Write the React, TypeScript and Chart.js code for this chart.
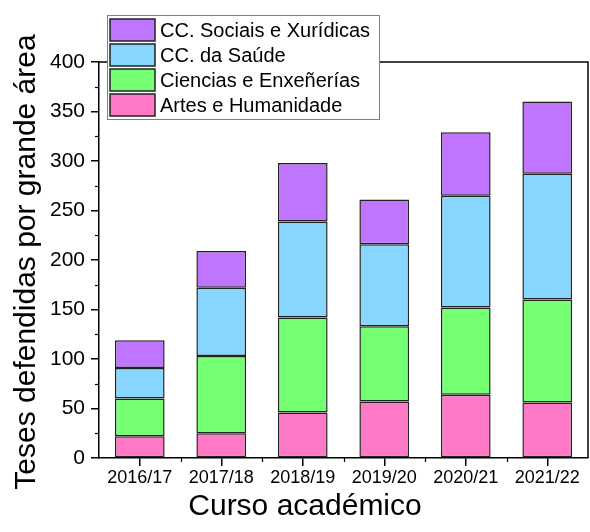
import React, { useEffect, useRef } from "react";
import { Chart, registerables } from "chart.js";

Chart.register(...registerables);

const categories = ["2016/17", "2017/18", "2018/19", "2019/20", "2020/21", "2021/22"];
const artes = [22, 25, 46, 57, 64, 56];
const ciencias = [38, 78, 96, 76, 88, 104];
const saude = [31, 69, 97, 83, 113, 127];
const sociais = [28, 37, 59, 45, 64, 73];
const yTicks = [0, 50, 100, 150, 200, 250, 300, 350, 400];

const FONT = "'Liberation Sans', Arial, sans-serif";

const framePlugin = {
  id: "frame",
  afterDraw(chart: any) {
    const { ctx, chartArea } = chart;
    const x = chart.scales.x;
    const y = chart.scales.y;
    ctx.save();
    ctx.strokeStyle = "#000";
    ctx.lineWidth = 1.5;
    ctx.beginPath();
    ctx.moveTo(chartArea.left, chartArea.top);
    ctx.lineTo(chartArea.right, chartArea.top);
    ctx.lineTo(chartArea.right, chartArea.bottom);
    ctx.stroke();
    ctx.lineWidth = 1.2;
    for (let i = 0; i < yTicks.length - 1; i++) {
      const v = (yTicks[i] + yTicks[i + 1]) / 2;
      const py = Math.round(y.getPixelForValue(v)) + 0.5;
      ctx.beginPath();
      ctx.moveTo(chartArea.left - 4, py);
      ctx.lineTo(chartArea.left, py);
      ctx.stroke();
    }
    for (let i = 0; i < categories.length - 1; i++) {
      const px = Math.round((x.getPixelForTick(i) + x.getPixelForTick(i + 1)) / 2) + 0.5;
      ctx.beginPath();
      ctx.moveTo(px, chartArea.bottom);
      ctx.lineTo(px, chartArea.bottom + 4);
      ctx.stroke();
    }
    ctx.fillStyle = "#000";
    ctx.font = `30px ${FONT}`;
    ctx.textAlign = "center";
    ctx.textBaseline = "middle";
    ctx.save();
    ctx.translate(27, (chartArea.top + chartArea.bottom) / 2 + 2);
    ctx.rotate(-Math.PI / 2);
    ctx.fillText("Teses defendidas por grande área", 0, 0);
    ctx.restore();
    ctx.textBaseline = "alphabetic";
    ctx.fillText("Curso académico", 305, 515);

    const lx = 107, ly = 15, lw = 272, lh = 104;
    ctx.fillStyle = "#fff";
    ctx.fillRect(lx, ly, lw, lh);
    ctx.strokeStyle = "#7f7f7f";
    ctx.lineWidth = 1;
    ctx.strokeRect(lx + 0.5, ly + 0.5, lw, lh);
    const ds = chart.data.datasets.slice().reverse();
    ctx.font = `20px ${FONT}`;
    ctx.textAlign = "left";
    ctx.textBaseline = "middle";
    ds.forEach((d: any, i: number) => {
      const ry = ly + 4 + i * 25;
      ctx.fillStyle = d.backgroundColor;
      ctx.fillRect(110, ry, 45, 22);
      ctx.strokeStyle = "#222";
      ctx.lineWidth = 1.5;
      ctx.strokeRect(110, ry, 45, 22);
      ctx.fillStyle = "#000";
      ctx.fillText(d.label, 160, ry + 12);
    });
    ctx.restore();
  },
};

export default function App() {
  const ref = useRef<HTMLCanvasElement>(null);
  useEffect(() => {
    if (!ref.current) return;
    const mk = (label: string, data: number[], color: string) => ({
      label,
      data,
      backgroundColor: color,
      borderColor: "#222",
      borderWidth: 1.5,
      borderSkipped: false,
      categoryPercentage: 1,
      barPercentage: 0.61,
    });
    const chart = new Chart(ref.current, {
      type: "bar",
      data: {
        labels: categories,
        datasets: [
          mk("Artes e Humanidade", artes, "#ff7ac6"),
          mk("Ciencias e Enxeñerías", ciencias, "#75ff73"),
          mk("CC. da Saúde", saude, "#87d6ff"),
          mk("CC. Sociais e Xurídicas", sociais, "#bf75ff"),
        ],
      },
      options: {
        responsive: false,
        animation: false,
        devicePixelRatio: 1,
        layout: { padding: { left: 0, right: 2, top: 62, bottom: 0 } },
        plugins: { legend: { display: false }, tooltip: { enabled: false } },
        scales: {
          x: {
            stacked: true,
            afterFit: (s: any) => { s.height = 74; },
            grid: { display: true, drawOnChartArea: false, offset: false, tickLength: 8, color: "#000", lineWidth: 1.5 },
            border: { display: true, color: "#000", width: 1.5 },
            ticks: { color: "#000", font: { size: 18, family: FONT }, padding: 1, maxRotation: 0 },
          },
          y: {
            stacked: true,
            min: 0,
            max: 400,
            afterFit: (s: any) => { s.width = 99; },
            afterBuildTicks: (s: any) => { s.ticks = yTicks.map((v) => ({ value: v })); },
            grid: { display: true, drawOnChartArea: false, tickLength: 8, color: "#000", lineWidth: 1.5 },
            border: { display: true, color: "#000", width: 1.5 },
            ticks: { color: "#000", font: { size: 21, family: FONT }, padding: 6 },
          },
        },
      },
      plugins: [framePlugin],
    });
    return () => chart.destroy();
  }, []);
  return (
    <div style={{ position: "absolute", left: 0, top: 0, width: 590, height: 532, background: "#fff" }}>
      <canvas ref={ref} width={590} height={532} style={{ width: 590, height: 532 }} />
    </div>
  );
}
